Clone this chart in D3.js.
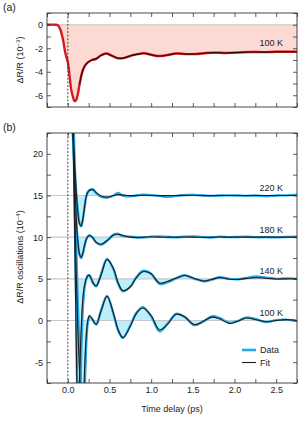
<!DOCTYPE html>
<html><head><meta charset="utf-8">
<script src="https://cdn.jsdelivr.net/npm/d3@7/dist/d3.min.js"></script>
<style>
body{margin:0;background:#fff;}
svg{display:block;}
text{font-family:"Liberation Sans",Arial,Helvetica,sans-serif;fill:#222;}
</style>
</head><body>
<svg id="c" width="306" height="422"></svg>
<script>
// ---------- Panel (a) data ----------
const tA = [-0.25, -0.15, -0.12, -0.09, -0.06, -0.03, 0.00, 0.02, 0.04, 0.06, 0.08, 0.10, 0.12, 0.14, 0.17, 0.20, 0.24, 0.29, 0.34, 0.40, 0.46, 0.52, 0.60, 0.68, 0.76, 0.84, 0.91, 1.00, 1.07, 1.18, 1.30, 1.42, 1.54, 1.66, 1.76, 1.90, 2.05, 2.20, 2.35, 2.50, 2.62, 2.75];
const dataA = [0, 0, -0.05, -0.4, -1.2, -2.4, -3.2, -4.3, -5.5, -6.1, -6.5, -6.4, -5.9, -5.1, -4.1, -3.55, -3.2, -3.0, -2.9, -2.6, -2.45, -2.6, -2.85, -2.82, -2.62, -2.5, -2.43, -2.55, -2.66, -2.6, -2.45, -2.5, -2.49, -2.4, -2.37, -2.4, -2.36, -2.32, -2.33, -2.3, -2.3, -2.3];
const fitTA = [0.14, 0.17, 0.20, 0.24, 0.29, 0.34, 0.40, 0.46, 0.52, 0.60, 0.68, 0.76, 0.84, 0.91, 1.00, 1.07, 1.18, 1.30, 1.42, 1.54, 1.66, 1.76, 1.90, 2.05, 2.20, 2.35, 2.50, 2.62, 2.75];
const fitA = [-5.1, -4.1, -3.55, -3.2, -3.0, -2.88, -2.6, -2.45, -2.6, -2.85, -2.82, -2.62, -2.5, -2.43, -2.55, -2.66, -2.6, -2.45, -2.5, -2.49, -2.4, -2.37, -2.4, -2.36, -2.32, -2.33, -2.3, -2.3, -2.3];
const labelA = "100 K";

// ---------- Panel (b) data ----------
const tB = [0.00, 0.03, 0.06, 0.08, 0.10, 0.12, 0.14, 0.16, 0.18, 0.20, 0.22, 0.24, 0.26, 0.30, 0.34, 0.40, 0.47, 0.55, 0.60, 0.66, 0.75, 0.82, 0.90, 1.00, 1.10, 1.20, 1.30, 1.40, 1.52, 1.64, 1.73, 1.82, 1.94, 2.04, 2.14, 2.26, 2.38, 2.50, 2.62, 2.75];
const temps = ["220 K", "180 K", "140 K", "100 K"];
const baselines = [15, 10, 5, 0];
const fit220 = [60, 34, 22.5, 19, 15.6, 13.0, 11.6, 11.35, 12.2, 13.6, 14.9, 15.4, 15.6, 15.7, 15.35, 14.95, 14.8, 15.0, 15.1, 15.05, 14.98, 15.0, 15.02, 15.0, 14.98, 15.0, 15.0, 15.02, 15.0, 14.98, 15.0, 15.0, 15.0, 15.0, 15.0, 15.0, 15.0, 15.0, 15.0, 15.0];
const data220 = [60, 34, 22.3, 18.8, 15.5, 13.1, 11.7, 11.3, 12.1, 13.5, 14.8, 15.4, 15.65, 15.75, 15.3, 14.85, 14.75, 15.0, 15.3, 15.0, 14.9, 15.0, 15.1, 15.05, 14.95, 14.85, 14.95, 15.05, 15.08, 15.0, 14.95, 15.0, 15.02, 15.0, 14.96, 15.0, 14.9, 15.0, 15.02, 15.1];
const fit180 = [65, 38, 24, 18.5, 12.5, 9.5, 8.0, 7.6, 8.1, 9.0, 9.7, 10.05, 10.2, 9.95, 9.4, 9.15, 9.6, 10.25, 10.35, 10.2, 10.0, 9.95, 10.0, 10.05, 10.0, 10.0, 10.0, 10.02, 10.0, 9.98, 10.0, 10.02, 10.0, 10.0, 10.0, 10.0, 10.0, 10.0, 10.0, 10.0];
const data180 = [65, 38, 23.5, 18, 12.3, 9.4, 7.9, 7.5, 8.0, 8.9, 9.7, 10.1, 10.25, 9.9, 9.35, 9.1, 9.55, 10.3, 10.4, 10.15, 10.05, 10.0, 9.95, 10.05, 10.1, 10.02, 9.98, 10.05, 10.08, 10.0, 9.96, 10.05, 10.0, 10.02, 10.05, 10.0, 10.0, 9.98, 10.02, 10.05];
const fit140 = [70, 42, 24, 12, -2, -11, -7, -1, 2.6, 4.2, 5.0, 5.35, 5.4, 4.6, 4.15, 5.5, 7.3, 6.2, 4.6, 3.6, 4.05, 5.1, 5.85, 5.6, 4.5, 4.7, 5.1, 5.4, 5.05, 4.72, 4.95, 5.15, 4.95, 4.92, 5.05, 5.15, 5.05, 4.98, 5.0, 5.0];
const data140 = [70, 44, 27, 15, 2, -9, -10, -4, 1.5, 3.9, 4.9, 5.4, 5.45, 4.5, 4.1, 5.6, 7.4, 6.1, 4.5, 3.5, 4.05, 5.15, 5.95, 5.6, 4.4, 4.6, 5.05, 5.45, 5.0, 4.7, 4.9, 5.2, 5.0, 4.95, 5.1, 5.3, 5.15, 5.0, 5.05, 5.0];
const fit100 = [75, 48, 26, 15, 6, -1, -6, -10, -10.5, -6, -2, 0.0, 0.6, 0.1, -0.45, 1.2, 2.9, 0.8, -1.0, -2.05, -0.7, 0.8, 1.5, 0.6, -1.1, -0.4, 0.75, 0.45, -0.5, 0.0, 0.4, 0.2, -0.35, -0.1, 0.3, 0.1, -0.15, 0.0, 0.1, 0.0];
const data100 = [75, 50, 30, 19, 9, 2, -4, -9, -12, -9, -3, -0.2, 0.5, 0.0, -0.5, 1.25, 2.95, 0.7, -1.1, -2.1, -0.6, 0.9, 1.6, 0.5, -1.3, -0.35, 0.8, 0.45, -0.55, -0.05, 0.5, 0.3, -0.3, -0.05, 0.35, 0.15, -0.2, 0.05, 0.1, -0.05];
const fitsB = [fit220, fit180, fit140, fit100];
const datasB = [data220, data180, data140, data100];

// ---------- ticks ----------
const xTicksAll = [-0.25, 0, 0.25, 0.5, 0.75, 1.0, 1.25, 1.5, 1.75, 2.0, 2.25, 2.5, 2.75];
const xTickLabels = [0, 0.5, 1.0, 1.5, 2.0, 2.5];
const yTicksA = [-7, -6, -5, -4, -3, -2, -1, 0, 1];
const yLabelsA = [-6, -4, -2, 0];
const yTicksB = [-7.5, -5, -2.5, 0, 2.5, 5, 7.5, 10, 12.5, 15, 17.5, 20, 22.5];
const yLabelsB = [-5, 0, 5, 10, 15, 20];

// ---------- layout ----------
const svg = d3.select("#c");
const X0 = 47, X1 = 297;
const A_TOP = 13, A_BOT = 107, B_TOP = 133, B_BOT = 383;
const x = d3.scaleLinear().domain([-0.25, 2.75]).range([X0, X1]);
const yA = d3.scaleLinear().domain([-7, 1]).range([A_BOT, A_TOP]);
const yB = d3.scaleLinear().domain([-7.5, 22.5]).range([B_BOT, B_TOP]);
const curve = d3.curveCatmullRom.alpha(0.5);
const hy = v => (v < 0 ? "-" : "") + Math.abs(v);

const defs = svg.append("defs");
defs.append("clipPath").attr("id", "clipA").append("rect")
  .attr("x", X0).attr("y", A_TOP).attr("width", X1 - X0).attr("height", A_BOT - A_TOP);
defs.append("clipPath").attr("id", "clipB").append("rect")
  .attr("x", X0).attr("y", B_TOP).attr("width", X1 - X0).attr("height", B_BOT - B_TOP);

// first downward crossing of the baseline (start of the shaded region)
function crossing(arr, b) {
  for (let i = 1; i < arr.length; i++) {
    if (arr[i - 1] > b && arr[i] <= b) {
      const f = (arr[i - 1] - b) / (arr[i - 1] - arr[i]);
      return tB[i - 1] + f * (tB[i] - tB[i - 1]);
    }
  }
  return tB[0];
}

// ---------- panel (a) ----------
const gA = svg.append("g");
const ptsA = tA.map((t, i) => [t, dataA[i]]);
const ptsFA = fitTA.map((t, i) => [t, fitA[i]]);
const cA = gA.append("g").attr("clip-path", "url(#clipA)");
cA.append("path").datum(ptsA)
  .attr("d", d3.area().x(d => x(d[0])).y0(yA(0)).y1(d => yA(d[1])).curve(curve))
  .attr("fill", "#fdd9d4");
cA.append("line").attr("x1", X0).attr("x2", X1).attr("y1", yA(0)).attr("y2", yA(0))
  .attr("stroke", "#c8c8c8").attr("stroke-width", 1.2);
cA.append("path").datum(ptsA)
  .attr("d", d3.line().x(d => x(d[0])).y(d => yA(d[1])).curve(curve))
  .attr("fill", "none").attr("stroke", "#d41a1f").attr("stroke-width", 2.4);
cA.append("path").datum(ptsFA)
  .attr("d", d3.line().x(d => x(d[0])).y(d => yA(d[1])).curve(curve))
  .attr("fill", "none").attr("stroke", "#2a0a0a").attr("stroke-width", 1.1);

// ---------- panel (b) ----------
const gB = svg.append("g");
const cB = gB.append("g").attr("clip-path", "url(#clipB)");
datasB.forEach((arr, k) => {
  const pts = tB.map((t, i) => [t, arr[i]]);
  const tc = crossing(arr, baselines[k]);
  defs.append("clipPath").attr("id", "fillclip" + k).append("rect")
    .attr("x", x(tc)).attr("y", B_TOP).attr("width", X1 - x(tc)).attr("height", B_BOT - B_TOP);
  cB.append("g").attr("clip-path", `url(#fillclip${k})`)
    .append("path").datum(pts)
    .attr("d", d3.area().x(d => x(d[0])).y0(yB(baselines[k])).y1(d => yB(d[1])).curve(curve))
    .attr("fill", "#bdeefa");
});
baselines.forEach(b => {
  cB.append("line").attr("x1", X0).attr("x2", X1).attr("y1", yB(b)).attr("y2", yB(b))
    .attr("stroke", "#c8c8c8").attr("stroke-width", 1.2);
});
datasB.forEach((arr, k) => {
  const pts = tB.map((t, i) => [t, arr[i]]);
  cB.append("path").datum(pts)
    .attr("d", d3.line().x(d => x(d[0])).y(d => yB(d[1])).curve(curve))
    .attr("fill", "none").attr("stroke", "#27a8e4").attr("stroke-width", 2.4);
});
fitsB.forEach((arr, k) => {
  const pts = tB.map((t, i) => [t, arr[i]]);
  cB.append("path").datum(pts)
    .attr("d", d3.line().x(d => x(d[0])).y(d => yB(d[1])).curve(curve))
    .attr("fill", "none").attr("stroke", "#1c1c1c").attr("stroke-width", 1.1);
});

// ---------- frames / axes ----------
function axes(y, top, bot, yTicks, yLabels, xLabels) {
  const g = svg.append("g");
  const style = sel => {
    sel.select(".domain").remove();
    sel.selectAll(".tick line").attr("stroke", "#333").attr("stroke-width", 0.8);
    sel.selectAll(".tick text").attr("font-size", 9).attr("fill", "#222")
      .attr("font-family", "'Liberation Sans',Arial,sans-serif");
  };
  g.append("g").attr("transform", `translate(0,${bot})`)
    .call(d3.axisBottom(x).tickValues(xTicksAll).tickSize(-4).tickPadding(4)
      .tickFormat(d => (xLabels && xTickLabels.some(v => Math.abs(v - d) < 1e-9)) ? d3.format(".1f")(d) : ""))
    .call(style);
  g.append("g").attr("transform", `translate(0,${top})`)
    .call(d3.axisTop(x).tickValues(xTicksAll).tickSize(-4).tickFormat(""))
    .call(style);
  g.append("g").attr("transform", `translate(${X0},0)`)
    .call(d3.axisLeft(y).tickValues(yTicks).tickSize(-4).tickPadding(4)
      .tickFormat(d => yLabels.includes(d) ? hy(d) : ""))
    .call(style);
  g.append("g").attr("transform", `translate(${X1},0)`)
    .call(d3.axisRight(y).tickValues(yTicks).tickSize(-4).tickFormat(""))
    .call(style);
  g.append("rect").attr("x", X0).attr("y", top).attr("width", X1 - X0).attr("height", bot - top)
    .attr("fill", "none").attr("stroke", "#333").attr("stroke-width", 0.9);
  g.append("line").attr("x1", x(0)).attr("x2", x(0)).attr("y1", top).attr("y2", bot)
    .attr("stroke", "#333").attr("stroke-width", 0.9).attr("stroke-dasharray", "2,1.6");
}
axes(yA, A_TOP, A_BOT, yTicksA, yLabelsA, false);
axes(yB, B_TOP, B_BOT, yTicksB, yLabelsB, true);

// ---------- texts ----------
svg.append("text").attr("x", 3).attr("y", 11).attr("font-size", 10.5).text("(a)");
svg.append("text").attr("x", 3).attr("y", 131).attr("font-size", 10.5).text("(b)");

svg.append("text").attr("x", 283).attr("y", yA(fitA[fitA.length - 1]) - 5.5)
  .attr("text-anchor", "end").attr("font-size", 9).text(labelA);
temps.forEach((lab, k) => {
  svg.append("text").attr("x", 283).attr("y", yB(baselines[k]) - 4.5)
    .attr("text-anchor", "end").attr("font-size", 9).text(lab);
});

function ylab(cx, cy, main, exp) {
  const t = svg.append("text").attr("transform", `translate(${cx},${cy}) rotate(-90)`)
    .attr("text-anchor", "middle").attr("font-size", 9);
  t.append("tspan").text(main + " (10");
  t.append("tspan").attr("font-size", 6).attr("dy", -3.5).text("−" + exp);
  t.append("tspan").attr("dy", 3.5).text(")");
}
ylab(23, 60, "ΔR/R", "3");
ylab(23, 257, "ΔR/R oscillations", "4");

svg.append("text").attr("x", 172).attr("y", 412).attr("text-anchor", "middle")
  .attr("font-size", 9).text("Time delay (ps)");

// legend
const lg = svg.append("g");
lg.append("line").attr("x1", 242).attr("x2", 256).attr("y1", 350).attr("y2", 350)
  .attr("stroke", "#27a8e4").attr("stroke-width", 2.6);
lg.append("text").attr("x", 260).attr("y", 353.3).attr("font-size", 9).text("Data");
lg.append("line").attr("x1", 242).attr("x2", 256).attr("y1", 362.5).attr("y2", 362.5)
  .attr("stroke", "#1c1c1c").attr("stroke-width", 1.1);
lg.append("text").attr("x", 260).attr("y", 365.8).attr("font-size", 9).text("Fit");
</script>
</body></html>
